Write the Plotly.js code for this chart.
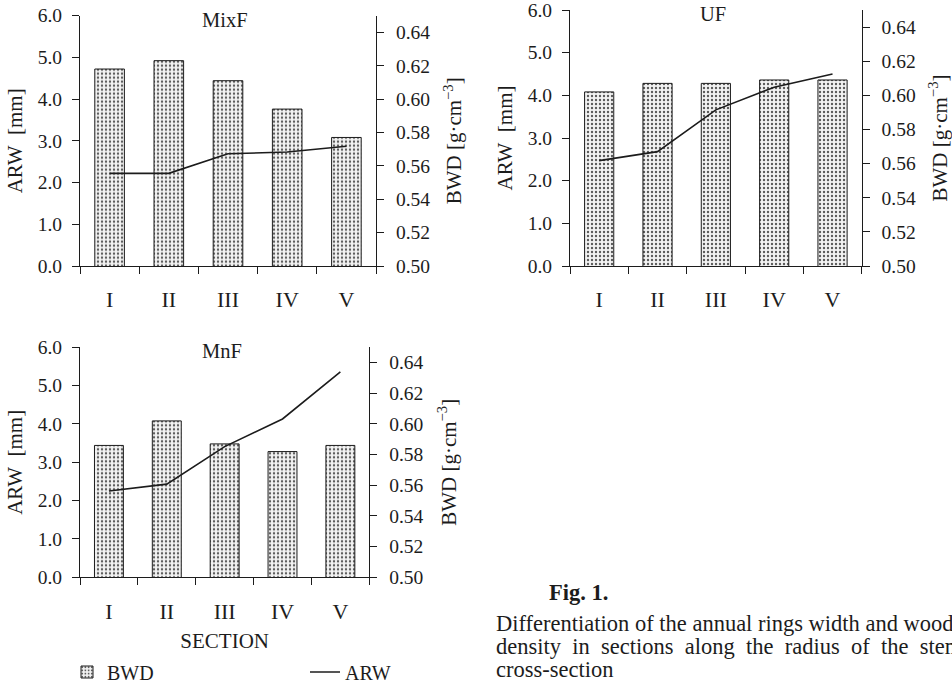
<!DOCTYPE html>
<html><head><meta charset="utf-8">
<script src="https://cdn.plot.ly/plotly-3.0.1.min.js"></script>
<style>html,body{margin:0;padding:0;background:#fff}</style>
</head><body><div id="chart" style="width:952px;height:686px"></div>
<script>
// ---- data ----
const sections = ['I','II','III','IV','V'];
const panelNames = ['MixF','UF','MnF'];
const bwdMixF = [0.618, 0.623, 0.611, 0.594, 0.577];
const bwdUF   = [0.602, 0.607, 0.607, 0.609, 0.609];
const bwdMnF  = [0.586, 0.602, 0.587, 0.582, 0.586];
const arwMixF = [2.22, 2.22, 2.69, 2.73, 2.87];
const arwUF   = [2.47, 2.68, 3.66, 4.19, 4.50];
const arwMnF  = [2.25, 2.43, 3.41, 4.13, 5.36];
const arwTicks = [0, 1, 2, 3, 4, 5, 6];
const bwdTicks = [0.50, 0.52, 0.54, 0.56, 0.58, 0.60, 0.62, 0.64];
const captionTitle = 'Fig. 1.';
const captionLines = [
  'Differentiation of the annual rings width and wood',
  'density\u00a0\u00a0in\u00a0\u00a0sections\u00a0\u00a0along\u00a0\u00a0the\u00a0\u00a0radius\u00a0\u00a0of\u00a0\u00a0the\u00a0\u00a0stem',
  'cross-section'
];

const FONT = 'Liberation Serif, Times New Roman, serif';
const INK = '#1c1c1c';
const bwdSets = [bwdMixF, bwdUF, bwdMnF];
const arwSets = [arwMixF, arwUF, arwMnF];

// panel geometry (pixels -> paper fractions)
const W = 952, H = 686;
const panels = [
  {x0: 80, x1: 376, yTop: 15.6, yBot: 266, ls: 9, rs: 17},
  {x0: 570, x1: 861.7, yTop: 10, yBot: 266, ls: 9, rs: 20},
  {x0: 80, x1: 369.3, yTop: 347.3, yBot: 577.3, ls: 9, rs: 18}
];

const data = [];
const layout = {
  width: W, height: H,
  margin: {l: 0, r: 0, t: 0, b: 0, pad: 0, autoexpand: false},
  paper_bgcolor: '#fff', plot_bgcolor: 'rgba(0,0,0,0)',
  font: {family: FONT, color: INK, size: 19},
  showlegend: true,
  legend: {
    orientation: 'h', x: 67/W, xanchor: 'left', y: 1 - 672/H, yanchor: 'middle',
    entrywidth: 193, entrywidthmode: 'pixels', font: {family: FONT, size: 20, color: INK},
    bgcolor: 'rgba(0,0,0,0)', traceorder: 'normal', itemwidth: 30
  },
  annotations: []
};

panels.forEach((p, i) => {
  const xn = i === 0 ? '' : String(i + 1);
  const ybase = 2 * i + 1, yov = 2 * i + 2;
  const ybName = ybase === 1 ? '' : String(ybase);
  const yoName = String(yov);
  data.push({
    type: 'bar', x: sections, y: bwdSets[i], name: 'BWD',
    xaxis: 'x' + xn, yaxis: 'y' + ybName, width: 0.5,
    showlegend: i === 2,
    marker: {color: '#f2f2f2', line: {color: INK, width: 1},
      pattern: {shape: '.', fgcolor: '#5a5a5a', bgcolor: '#f3f3f3', size: 4, solidity: 0.28}},
    hoverinfo: 'skip'
  });
  data.push({
    type: 'scatter', mode: 'lines', x: sections, y: arwSets[i], name: 'ARW',
    xaxis: 'x' + xn, yaxis: 'y' + yoName, showlegend: i === 2,
    line: {color: INK, width: 1.6}, hoverinfo: 'skip'
  });
  const axCommon = {showline: true, linecolor: INK, linewidth: 1, ticks: 'outside',
    ticklen: 7, tickcolor: INK, tickwidth: 1, showgrid: false, zeroline: false,
    fixedrange: true, ticklabeloverflow: 'allow', automargin: false,
    tickfont: {family: FONT, size: 19.5, color: INK}};
  const xax = Object.assign({}, axCommon, {
    type: 'category', domain: [p.x0 / W, p.x1 / W], anchor: 'y' + ybName,
    range: [-0.5, 4.5], tickson: 'boundaries', ticklabelstandoff: 14,
    tickfont: {family: FONT, size: 22, color: INK}
  });
  if (i === 2) xax.title = {text: 'SECTION', font: {family: FONT, size: 21, color: INK}, standoff: 10};
  layout['xaxis' + xn] = xax;
  layout['yaxis' + ybName] = Object.assign({}, axCommon, {
    domain: [1 - p.yBot / H, 1 - p.yTop / H], anchor: 'x' + xn, side: 'right',
    range: [0.5, 0.65], tickmode: 'array', tickvals: bwdTicks, tickformat: '.2f',
    ticklabelstandoff: 8,
    title: {text: 'BWD [g\u00b7cm<sup>\u22123</sup>]', font: {family: FONT, size: 21, color: INK}, standoff: p.rs}
  });
  layout['yaxis' + yoName] = Object.assign({}, axCommon, {
    overlaying: 'y' + ybName, anchor: 'x' + xn, side: 'left',
    range: [0, 6], tickmode: 'array', tickvals: arwTicks, tickformat: '.1f',
    ticklabelstandoff: 6,
    title: {text: 'ARW\u00a0 [mm]', font: {family: FONT, size: 21, color: INK}, standoff: p.ls}
  });
  layout.annotations.push({
    text: panelNames[i], xref: 'x' + xn + ' domain', yref: 'y' + ybName + ' domain',
    x: 0.5, y: 1, xanchor: 'center', yanchor: 'middle', yshift: -4, xshift: -3,
    showarrow: false, font: {family: FONT, size: 20.5, color: INK}
  });
});

layout.annotations.push({
  text: '<b>' + captionTitle + '</b>', xref: 'paper', yref: 'paper',
  x: 547 / W, y: 1 - 592 / H, xanchor: 'left', yanchor: 'middle', showarrow: false,
  font: {family: FONT, size: 22.5, color: INK}
});
const lineY = [623, 646, 669];
captionLines.forEach((t, k) => {
  layout.annotations.push({
    text: t, xref: 'paper', yref: 'paper', x: 494 / W, y: 1 - lineY[k] / H,
    xanchor: 'left', yanchor: 'middle', showarrow: false,
    font: {family: FONT, size: 22.5, color: INK}
  });
});

Plotly.newPlot('chart', data, layout, {staticPlot: true, displayModeBar: false});
</script>
</body></html>
